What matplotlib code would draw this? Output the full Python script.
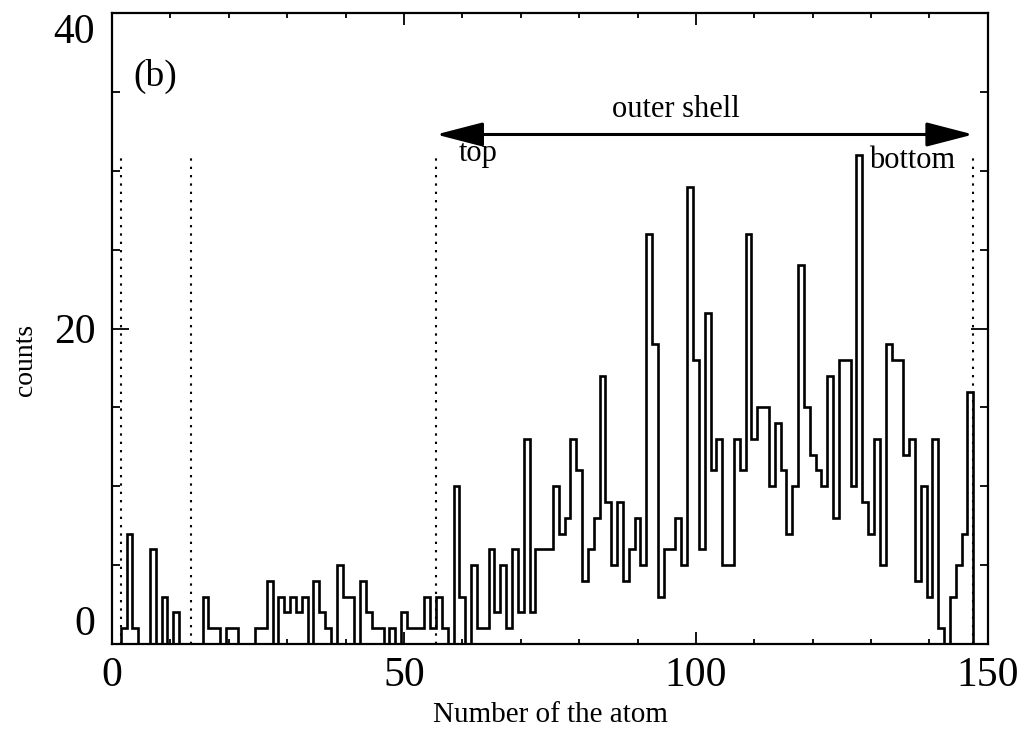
import matplotlib
matplotlib.use("Agg")
import matplotlib.pyplot as plt
import numpy as np

# counts per atom number (atoms 1..148)
atoms = np.arange(1, 149)
counts = [0, 1, 7, 1, 0, 0, 6, 0, 3, 0,          # 1-10
          2, 0, 0, 0, 0, 3, 1, 1, 0, 1,          # 11-20
          1, 0, 0, 0, 1, 1, 4, 0, 3, 2,          # 21-30
          3, 2, 3, 0, 4, 2, 1, 0, 5, 3,          # 31-40
          3, 0, 4, 2, 1, 1, 0, 1, 0, 2,          # 41-50
          1, 1, 1, 3, 1, 3, 1, 0, 10, 3,         # 51-60
          0, 5, 1, 1, 6, 2, 5, 1, 6, 2,          # 61-70
          13, 2, 6, 6, 6, 10, 7, 8, 13, 11,      # 71-80
          4, 6, 8, 17, 9, 5, 9, 4, 6, 8,         # 81-90
          5, 26, 19, 3, 6, 6, 8, 5, 29, 18,      # 91-100
          6, 21, 11, 13, 5, 5, 13, 11, 26, 13,   # 101-110
          15, 15, 10, 14, 11, 7, 10, 24, 15, 12, # 111-120
          11, 10, 17, 8, 18, 18, 10, 31, 9, 7,   # 121-130
          13, 5, 19, 18, 18, 12, 13, 4, 10, 3,   # 131-140
          13, 1, 0, 3, 5, 7, 16, 0]              # 141-148

# shell boundaries (magic numbers 1, 13, 55, 147)
shells = [1.5, 13.5, 55.5, 147.5]
shell_top = 31

plt.rcParams['font.family'] = ['Liberation Serif', 'DejaVu Serif']

fig = plt.figure(figsize=(10.22, 7.36), dpi=100)
ax = fig.add_axes([0.1096, 0.125, 0.857, 0.8573])

edges = np.append(atoms - 0.5, atoms[-1] + 0.5)
ax.stairs(counts, edges, color='k', lw=1.9, baseline=0)

ax.vlines(shells, 0, shell_top, colors='k', lw=1.5, linestyles=(0, (1.1, 2.9)))

# outer shell arrow
ax.annotate('', xy=(shells[2], 32.3), xytext=(shells[3], 32.3),
            arrowprops=dict(arrowstyle='<|-|>,head_length=2.9,head_width=0.75',
                            mutation_scale=10, lw=2.2, color='k',
                            shrinkA=0, shrinkB=0))
ax.text(96.5, 33.9, 'outer shell', ha='center', va='center', fontsize=22)
ax.text(59.3, 30.6, 'top', ha='left', va='baseline', fontsize=22)
ax.text(129.6, 30.2, 'bottom', ha='left', va='baseline', fontsize=22)
ax.text(3.6, 36.0, '(b)', ha='left', va='center', fontsize=27)

ax.set_xlim(0, 150)
ax.set_ylim(0, 40)
ax.set_xticks([0, 50, 100, 150])
ax.set_xticks(np.arange(0, 151, 10), minor=True)
ax.set_yticks([0, 20, 40])
ax.set_yticks(np.arange(0, 41, 5), minor=True)

ax.tick_params(which='both', direction='in', top=True, right=True, width=1.3,
               labelsize=30, colors='k')
ax.tick_params(axis='x', which='major', length=8.5, pad=9)
ax.tick_params(axis='x', which='minor', length=3.5)
ax.tick_params(axis='y', which='major', length=12, pad=12)
ax.tick_params(axis='y', which='minor', length=6)

labels = ax.get_yticklabels()
labels[0].set_va('bottom')
labels[-1].set_va('top')

for s in ax.spines.values():
    s.set_linewidth(1.6)

ax.set_xlabel('Number of the atom', fontsize=21, labelpad=5)
ax.set_ylabel('counts', fontsize=20)
ax.yaxis.set_label_coords(-0.085, 0.45)

fig.savefig('out.png', dpi=100)
